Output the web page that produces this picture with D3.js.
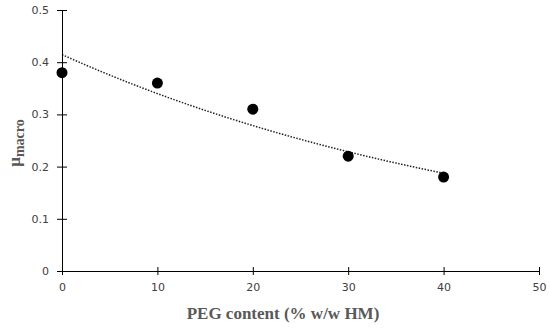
<!DOCTYPE html>
<html>
<head>
<meta charset="utf-8">
<script src="https://cdn.jsdelivr.net/npm/d3@7"></script>
<style>
  body { margin: 0; background: #fff; }
  svg { display: block; }
</style>
</head>
<body>
<svg id="chart" width="550" height="333"></svg>
<script>
// data
var pegContent = [0, 10, 20, 30, 40],
    muMacro = [0.38, 0.36, 0.31, 0.22, 0.18],
    xTicks = [0, 10, 20, 30, 40, 50],
    yTicks = [0, 0.1, 0.2, 0.3, 0.4, 0.5];

var svg = d3.select("#chart"),
    margin = {left: 62, right: 11, top: 10, bottom: 62},
    width = 550, height = 333;

var x = d3.scaleLinear().domain([0, 50]).range([margin.left, width - margin.right]),
    y = d3.scaleLinear().domain([0, 0.5]).range([height - margin.bottom, margin.top]);

// exponential trendline fitted on the data (least squares on ln y)
var mx = d3.mean(pegContent),
    ly = muMacro.map(Math.log),
    my = d3.mean(ly),
    b = d3.sum(pegContent, function(v, i) { return (v - mx) * (ly[i] - my); }) /
        d3.sum(pegContent, function(v) { return (v - mx) * (v - mx); }),
    a = Math.exp(my - b * mx);

var fitX = d3.range(0, 40.01, 0.5);
var line = d3.line()
    .x(function(d) { return x(d); })
    .y(function(d) { return y(a * Math.exp(b * d)); });

svg.append("path")
    .datum(fitX)
    .attr("d", line)
    .attr("fill", "none")
    .attr("stroke", "#222")
    .attr("stroke-width", 1.5)
    .attr("stroke-dasharray", "1.5,1.5");

// axes
var xAxis = svg.append("g")
    .attr("transform", "translate(0," + y(0) + ")")
    .call(d3.axisBottom(x).tickValues(xTicks).tickSizeInner(4).tickSizeOuter(0).tickFormat(d3.format("d")));
var yAxis = svg.append("g")
    .attr("transform", "translate(" + x(0) + ",0)")
    .call(d3.axisLeft(y).tickValues(yTicks).tickSizeInner(5).tickSizeOuter(0).tickFormat(function(d) { return d === 0 ? "0" : d3.format(".1f")(d); }));

[xAxis, yAxis].forEach(function(g) {
    g.select(".domain").attr("stroke", "#000").attr("stroke-width", 1);
    g.selectAll(".tick line").attr("stroke", "#000");
    g.selectAll(".tick text")
        .attr("fill", "#404040")
        .style("font-family", "DejaVu Sans, Verdana, sans-serif")
        .style("font-size", "11px");
});
// cross tick marks
xAxis.selectAll(".tick line").attr("y1", -4).attr("y2", 4);
xAxis.selectAll(".tick text").attr("y", 12);
yAxis.selectAll(".tick line").attr("x1", -5).attr("x2", 5);
yAxis.selectAll(".tick text").attr("x", -13);

// points
svg.selectAll("circle.pt")
    .data(pegContent)
    .enter().append("circle")
    .attr("class", "pt")
    .attr("cx", function(d) { return x(d); })
    .attr("cy", function(d, i) { return y(muMacro[i]); })
    .attr("r", 5.5)
    .attr("fill", "#000");

// axis titles
svg.append("text")
    .attr("x", 283)
    .attr("y", 319)
    .attr("text-anchor", "middle")
    .attr("fill", "#595959")
    .style("font-family", "Liberation Serif, serif")
    .style("font-size", "17px")
    .style("font-weight", "bold")
    .text("PEG content (% w/w HM)");

var yt = svg.append("text")
    .attr("transform", "translate(20,143) rotate(-90)")
    .attr("text-anchor", "middle")
    .attr("fill", "#595959")
    .style("font-family", "Liberation Serif, serif")
    .style("font-size", "17px")
    .style("font-weight", "bold");
yt.append("tspan").text("μ");
yt.append("tspan").attr("dy", 4).style("font-size", "14px").text("macro");
</script>
</body>
</html>
